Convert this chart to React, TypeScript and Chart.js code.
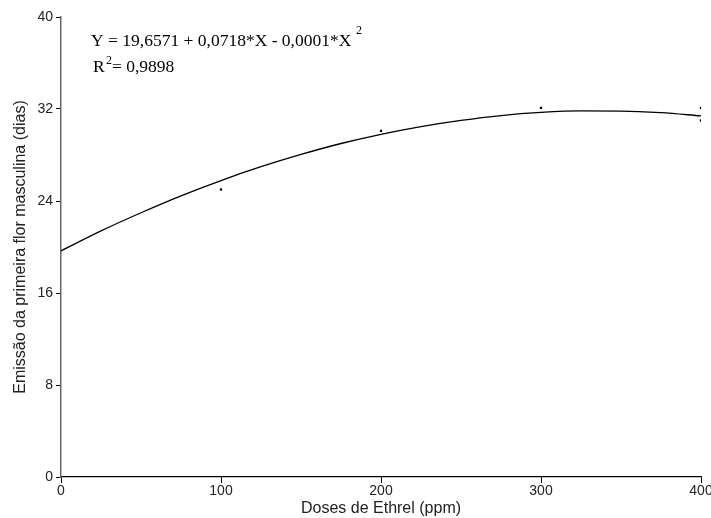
import React, { useEffect, useRef } from "react";
import { Chart, registerables } from "chart.js";

Chart.register(...registerables);

const xTicks = [0, 100, 200, 300, 400];
const yTicks = [0, 8, 16, 24, 32, 40];
const obsX = [100, 200, 300, 400, 400];
const obsY = [25.0, 30.1, 32.1, 32.1, 31.0];
const fitX = [0, 25, 50, 75, 100, 125, 150, 175, 200, 225, 250, 275, 300, 325, 350, 375, 400];
const fitY = [19.66, 21.4, 22.98, 24.45, 25.78, 26.98, 28.05, 29.0, 29.8, 30.47, 31.01, 31.43, 31.7, 31.83, 31.82, 31.68, 31.4];
const equation = "Y = 19,6571 + 0,0718*X - 0,0001*X";
const r2Label = "= 0,9898";

const eqPlugin = {
  id: "eqText",
  afterDraw(chart: any) {
    const ctx = chart.ctx;
    const big = "17.5px 'Liberation Serif', 'Times New Roman', serif";
    const small = "12px 'Liberation Serif', 'Times New Roman', serif";
    ctx.save();
    ctx.fillStyle = "#000";
    ctx.textBaseline = "alphabetic";
    ctx.font = big;
    ctx.fillText(equation, 91, 46);
    const w = ctx.measureText(equation).width;
    ctx.font = small;
    ctx.fillText("2", Math.max(91 + w + 3, 356), 34);
    ctx.font = big;
    ctx.fillText("R", 93, 72);
    ctx.font = small;
    ctx.fillText("2", 106, 64);
    ctx.font = big;
    ctx.fillText(r2Label, 112, 72);
    ctx.restore();
  },
};

export default function App() {
  const ref = useRef<HTMLCanvasElement>(null);
  useEffect(() => {
    document.body.style.margin = "0";
    const chart = new Chart(ref.current!, {
      type: "scatter",
      data: {
        datasets: [
          {
            type: "line",
            data: fitX.map((x, i) => ({ x, y: fitY[i] })),
            borderColor: "#000",
            borderWidth: 1.3,
            pointRadius: 0,
            cubicInterpolationMode: "monotone",
            fill: false,
          } as any,
          {
            type: "scatter",
            data: obsX.map((x, i) => ({ x, y: obsY[i] })),
            backgroundColor: "#000",
            borderColor: "#000",
            pointStyle: "rect",
            pointRadius: 1.6,
            borderWidth: 0,
          } as any,
        ],
      },
      options: {
        animation: false,
        responsive: false,
        devicePixelRatio: 1,
        layout: { padding: { top: 17, right: 10, left: 0, bottom: 0 } },
        plugins: { legend: { display: false }, tooltip: { enabled: false } },
        scales: {
          x: {
            type: "linear",
            min: 0,
            max: 400,
            afterBuildTicks: (s: any) => { s.ticks = xTicks.map((v) => ({ value: v })); },
            afterFit: (s: any) => { s.height = 41; s.paddingRight = 0; s.paddingLeft = 0; },
            grid: { drawOnChartArea: false, tickLength: 6, color: "#000" },
            border: { color: "#000", width: 1.3 },
            ticks: { color: "#222", font: { family: "Arial, 'Liberation Sans'", size: 14 }, padding: 0, maxRotation: 0 },
            title: { display: true, text: "Doses de Ethrel (ppm)", color: "#222", font: { family: "Arial, 'Liberation Sans'", size: 16 }, padding: { top: 0, bottom: 0 } },
          },
          y: {
            type: "linear",
            min: 0,
            max: 40,
            afterBuildTicks: (s: any) => { s.ticks = yTicks.map((v) => ({ value: v })); },
            afterFit: (s: any) => { s.width = 61; },
            grid: { drawOnChartArea: false, tickLength: 5, color: "#000" },
            border: { color: "#666", width: 1.5 },
            ticks: { color: "#222", font: { family: "Arial, 'Liberation Sans'", size: 14 }, padding: 3 },
            title: { display: true, text: "Emissão da primeira flor masculina (dias)", color: "#222", font: { family: "Arial, 'Liberation Sans'", size: 16 }, padding: { top: 11, bottom: 0 } },
          },
        },
      },
      plugins: [eqPlugin],
    } as any);
    return () => chart.destroy();
  }, []);
  return <canvas ref={ref} width={711} height={518} style={{ display: "block" }} />;
}
